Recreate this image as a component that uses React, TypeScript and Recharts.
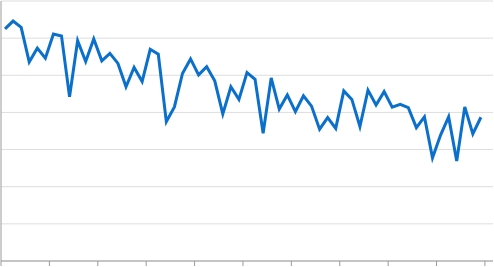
import { LineChart, Line, XAxis, YAxis, CartesianGrid } from "recharts";

// one value per period
const values = [
  62.5, 64.6, 62.9, 53.6, 57.3, 54.6, 61.1, 60.6, 44.2, 59.3,
  53.7, 59.8, 53.9, 55.9, 53.2, 46.9, 52.1, 48.3, 57.0, 55.7,
  37.5, 41.5, 50.5, 54.4, 50.1, 52.3, 48.5, 39.6, 46.9, 43.5,
  50.7, 48.9, 34.4, 49.3, 40.9, 44.7, 40.2, 44.5, 41.7, 35.5,
  38.6, 35.7, 45.8, 43.5, 36.2, 46.0, 42.0, 45.6, 41.4, 42.2,
  41.3, 35.9, 38.8, 27.8, 33.9, 38.8, 26.9, 41.5, 34.2, 38.7,
];

const xTicks = [0, 6, 12, 18, 24, 30, 36, 42, 48, 54, 60];
const yTicks = [0, 10, 20, 30, 40, 50, 60, 70];

const data = values.map((v, i) => ({ x: i + 0.5, value: v }));

// axes carry no labels, only lines
const NoLabel = () => <g />;

export default function App() {
  return (
    <div style={{ position: "absolute", left: 0, top: 0 }}>
      <LineChart width={494} height={267} data={data} margin={{ top: 1, right: 1, bottom: 0, left: 0 }}>
        <CartesianGrid vertical={false} stroke="#dedede" />
        <XAxis
          dataKey="x"
          type="number"
          domain={[0, 61]}
          ticks={xTicks}
          interval={0}
          height={6}
          tick={<NoLabel />}
          tickSize={5}
          stroke="#9a9a9a"
        />
        <YAxis
          type="number"
          domain={[0, 70]}
          ticks={yTicks}
          interval={0}
          width={1}
          tick={<NoLabel />}
          tickLine={false}
          stroke="#9a9a9a"
        />
        <Line
          dataKey="value"
          stroke="#0a70cc"
          strokeWidth={3}
          dot={false}
          activeDot={false}
          isAnimationActive={false}
        />
      </LineChart>
    </div>
  );
}
